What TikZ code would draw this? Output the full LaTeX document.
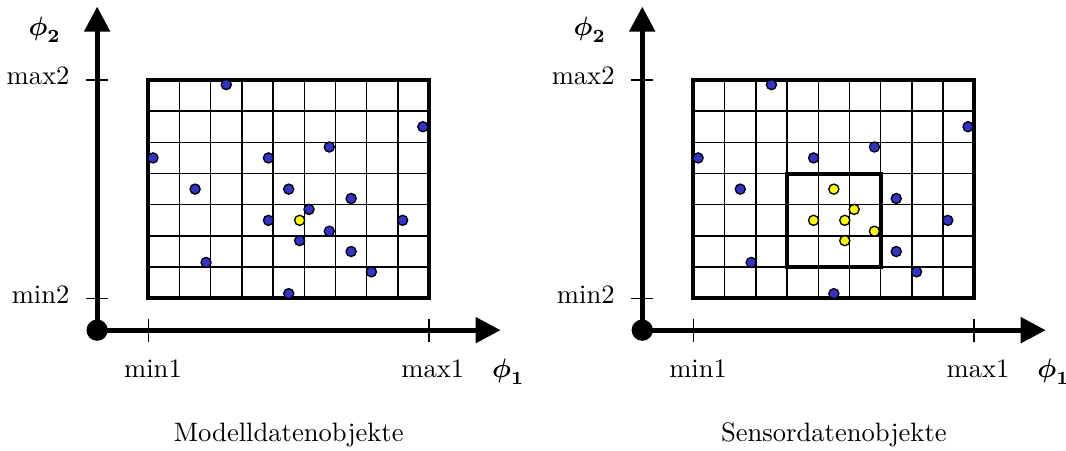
\documentclass[tikz,border=0pt]{standalone}
\usepackage{amsmath, amssymb}
\usepackage{xcolor}
\usetikzlibrary{arrows.meta}
\definecolor{dotblue}{RGB}{51,51,204}
\definecolor{dotyellow}{RGB}{255,255,0}

\begin{document}
\begin{tikzpicture}[x=11.73pt, y=11.73pt,
  axisline/.style={line width=1.9pt, -{Triangle[length=9.4pt,width=9.4pt]}},
  tickmark/.style={line width=0.6pt},
  gridframe/.style={line width=1.5pt},
  gridcell/.style={line width=0.5pt},
  obj/.style={draw=black, line width=0.5pt, fill=dotblue},
  hit/.style={obj, fill=dotyellow},
  lbl/.style={inner sep=0pt}]
\useasboundingbox (-4.753,-4.862) rectangle (29.41,9.561);
% left panel: model data objects
\coordinate (origL) at (-1.64,-1.02);
\coordinate (xendL) at (11.29,-1.02);
\coordinate (yendL) at (-1.64,9.35);
\draw[gridcell] (0,0) grid[step=11.73pt] (9,7);
\draw[gridframe] (0,0) rectangle (9,7);
\draw[axisline] (origL) -- (xendL);
\draw[axisline] (origL) -- (yendL);
\fill (origL) circle[radius=4pt];
\draw[tickmark] (0,-0.65) -- (0,-1.39);
\draw[tickmark] (9,-0.65) -- (9,-1.39);
\draw[tickmark] (-1.99,0) -- (-1.29,0);
\draw[tickmark] (-1.99,7) -- (-1.29,7);
\node[lbl, anchor=base east] (max2L) at (-2.51,6.84) {max2};
\node[lbl, anchor=base east] (min2L) at (-2.51,-0.16) {min2};
\node[lbl, anchor=base] (min1L) at (0.15,-2.54) {min1};
\node[lbl, anchor=base] (max1L) at (9.12,-2.54) {max1};
\node[lbl, anchor=base] (phiaL) at (11.54,-2.54) {$\boldsymbol{\phi}_{\mathbf{1}}$};
\node[lbl, anchor=base] (phibL) at (-3.32,8.41) {$\boldsymbol{\phi}_{\mathbf{2}}$};
\node[lbl, anchor=base] (titleL) at (4.5,-4.6) {Modelldatenobjekte};
\foreach \px/\py in {2.5/6.85, 8.8/5.5, 5.8/4.85, 0.15/4.5, 3.85/4.5, 1.5/3.5, 6.5/3.2, 8.15/2.5, 6.5/1.5, 1.85/1.15, 7.15/0.85, 4.5/0.15, 4.5/3.5, 5.15/2.85, 3.85/2.5, 5.8/2.15, 4.85/1.85}
  \filldraw[obj] (\px,\py) circle[radius=1.9pt];
\filldraw[hit] (4.85,2.5) circle[radius=1.9pt];
% right panel: sensor data objects with query window
\begin{scope}[xshift=17.47*11.73pt]
  \coordinate (origR) at (-1.64,-1.02);
  \coordinate (xendR) at (11.29,-1.02);
  \coordinate (yendR) at (-1.64,9.35);
  \draw[gridcell] (0,0) grid[step=11.73pt] (9,7);
  \draw[gridframe] (0,0) rectangle (9,7);
  \draw[axisline] (origR) -- (xendR);
  \draw[axisline] (origR) -- (yendR);
  \fill (origR) circle[radius=4pt];
  \draw[tickmark] (0,-0.65) -- (0,-1.39);
  \draw[tickmark] (9,-0.65) -- (9,-1.39);
  \draw[tickmark] (-1.99,0) -- (-1.29,0);
  \draw[tickmark] (-1.99,7) -- (-1.29,7);
  \node[lbl, anchor=base east] (max2R) at (-2.51,6.84) {max2};
  \node[lbl, anchor=base east] (min2R) at (-2.51,-0.16) {min2};
  \node[lbl, anchor=base] (min1R) at (0.15,-2.54) {min1};
  \node[lbl, anchor=base] (max1R) at (9.12,-2.54) {max1};
  \node[lbl, anchor=base] (phiaR) at (11.54,-2.54) {$\boldsymbol{\phi}_{\mathbf{1}}$};
  \node[lbl, anchor=base] (phibR) at (-3.32,8.41) {$\boldsymbol{\phi}_{\mathbf{2}}$};
  \node[lbl, anchor=base] (titleR) at (4.5,-4.6) {Sensordatenobjekte};
  \foreach \px/\py in {2.5/6.85, 8.8/5.5, 5.8/4.85, 0.15/4.5, 3.85/4.5, 1.5/3.5, 6.5/3.2, 8.15/2.5, 6.5/1.5, 1.85/1.15, 7.15/0.85, 4.5/0.15}
    \filldraw[obj] (\px,\py) circle[radius=1.9pt];
  \draw[gridframe] (3,1) rectangle (6,4);
  \foreach \px/\py in {4.5/3.5, 5.15/2.85, 3.85/2.5, 4.85/2.5, 5.8/2.15, 4.85/1.85}
    \filldraw[hit] (\px,\py) circle[radius=1.9pt];
\end{scope}
\end{tikzpicture}
\end{document}
